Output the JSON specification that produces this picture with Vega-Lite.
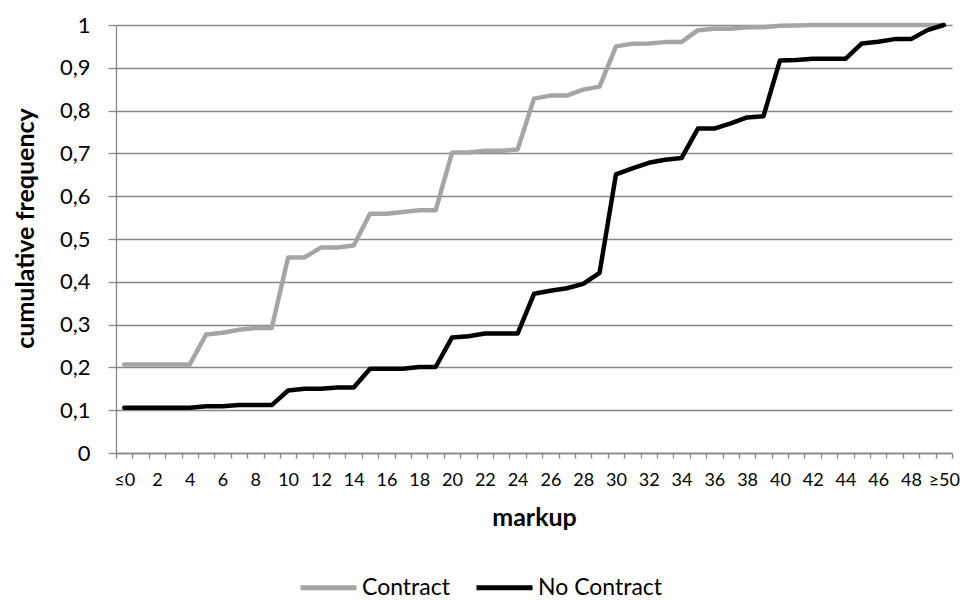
{
  "$schema": "https://vega.github.io/schema/vega-lite/v6.json",
  "autosize": {"type": "none"},
  "padding": {"left": 116, "top": 25, "right": 12, "bottom": 147},
  "width": 836,
  "height": 428,
  "background": "white",
  "data": {
    "values": [
      {"m": "≤0", "series": "Contract", "v": 0.207},
      {"m": "1", "series": "Contract", "v": 0.207},
      {"m": "2", "series": "Contract", "v": 0.207},
      {"m": "3", "series": "Contract", "v": 0.207},
      {"m": "4", "series": "Contract", "v": 0.207},
      {"m": "5", "series": "Contract", "v": 0.277},
      {"m": "6", "series": "Contract", "v": 0.281},
      {"m": "7", "series": "Contract", "v": 0.288},
      {"m": "8", "series": "Contract", "v": 0.292},
      {"m": "9", "series": "Contract", "v": 0.292},
      {"m": "10", "series": "Contract", "v": 0.457},
      {"m": "11", "series": "Contract", "v": 0.457},
      {"m": "12", "series": "Contract", "v": 0.48},
      {"m": "13", "series": "Contract", "v": 0.48},
      {"m": "14", "series": "Contract", "v": 0.485},
      {"m": "15", "series": "Contract", "v": 0.559},
      {"m": "16", "series": "Contract", "v": 0.559},
      {"m": "17", "series": "Contract", "v": 0.563},
      {"m": "18", "series": "Contract", "v": 0.567},
      {"m": "19", "series": "Contract", "v": 0.567},
      {"m": "20", "series": "Contract", "v": 0.702},
      {"m": "21", "series": "Contract", "v": 0.702},
      {"m": "22", "series": "Contract", "v": 0.706},
      {"m": "23", "series": "Contract", "v": 0.706},
      {"m": "24", "series": "Contract", "v": 0.709},
      {"m": "25", "series": "Contract", "v": 0.828},
      {"m": "26", "series": "Contract", "v": 0.835},
      {"m": "27", "series": "Contract", "v": 0.835},
      {"m": "28", "series": "Contract", "v": 0.849},
      {"m": "29", "series": "Contract", "v": 0.856},
      {"m": "30", "series": "Contract", "v": 0.95},
      {"m": "31", "series": "Contract", "v": 0.956},
      {"m": "32", "series": "Contract", "v": 0.957},
      {"m": "33", "series": "Contract", "v": 0.96},
      {"m": "34", "series": "Contract", "v": 0.96},
      {"m": "35", "series": "Contract", "v": 0.988},
      {"m": "36", "series": "Contract", "v": 0.991},
      {"m": "37", "series": "Contract", "v": 0.991},
      {"m": "38", "series": "Contract", "v": 0.995},
      {"m": "39", "series": "Contract", "v": 0.995},
      {"m": "40", "series": "Contract", "v": 0.998},
      {"m": "41", "series": "Contract", "v": 0.999},
      {"m": "42", "series": "Contract", "v": 1},
      {"m": "43", "series": "Contract", "v": 1},
      {"m": "44", "series": "Contract", "v": 1},
      {"m": "45", "series": "Contract", "v": 1},
      {"m": "46", "series": "Contract", "v": 1},
      {"m": "47", "series": "Contract", "v": 1},
      {"m": "48", "series": "Contract", "v": 1},
      {"m": "49", "series": "Contract", "v": 1},
      {"m": "≥50", "series": "Contract", "v": 1},
      {"m": "≤0", "series": "No Contract", "v": 0.106},
      {"m": "1", "series": "No Contract", "v": 0.106},
      {"m": "2", "series": "No Contract", "v": 0.106},
      {"m": "3", "series": "No Contract", "v": 0.106},
      {"m": "4", "series": "No Contract", "v": 0.106},
      {"m": "5", "series": "No Contract", "v": 0.109},
      {"m": "6", "series": "No Contract", "v": 0.109},
      {"m": "7", "series": "No Contract", "v": 0.112},
      {"m": "8", "series": "No Contract", "v": 0.112},
      {"m": "9", "series": "No Contract", "v": 0.112},
      {"m": "10", "series": "No Contract", "v": 0.146},
      {"m": "11", "series": "No Contract", "v": 0.15},
      {"m": "12", "series": "No Contract", "v": 0.15},
      {"m": "13", "series": "No Contract", "v": 0.153},
      {"m": "14", "series": "No Contract", "v": 0.153},
      {"m": "15", "series": "No Contract", "v": 0.197},
      {"m": "16", "series": "No Contract", "v": 0.197},
      {"m": "17", "series": "No Contract", "v": 0.197},
      {"m": "18", "series": "No Contract", "v": 0.201},
      {"m": "19", "series": "No Contract", "v": 0.201},
      {"m": "20", "series": "No Contract", "v": 0.27},
      {"m": "21", "series": "No Contract", "v": 0.273},
      {"m": "22", "series": "No Contract", "v": 0.279},
      {"m": "23", "series": "No Contract", "v": 0.279},
      {"m": "24", "series": "No Contract", "v": 0.279},
      {"m": "25", "series": "No Contract", "v": 0.372},
      {"m": "26", "series": "No Contract", "v": 0.379},
      {"m": "27", "series": "No Contract", "v": 0.385},
      {"m": "28", "series": "No Contract", "v": 0.395},
      {"m": "29", "series": "No Contract", "v": 0.421},
      {"m": "30", "series": "No Contract", "v": 0.651},
      {"m": "31", "series": "No Contract", "v": 0.665},
      {"m": "32", "series": "No Contract", "v": 0.678},
      {"m": "33", "series": "No Contract", "v": 0.685},
      {"m": "34", "series": "No Contract", "v": 0.689},
      {"m": "35", "series": "No Contract", "v": 0.758},
      {"m": "36", "series": "No Contract", "v": 0.758},
      {"m": "37", "series": "No Contract", "v": 0.77},
      {"m": "38", "series": "No Contract", "v": 0.784},
      {"m": "39", "series": "No Contract", "v": 0.787},
      {"m": "40", "series": "No Contract", "v": 0.917},
      {"m": "41", "series": "No Contract", "v": 0.918},
      {"m": "42", "series": "No Contract", "v": 0.921},
      {"m": "43", "series": "No Contract", "v": 0.921},
      {"m": "44", "series": "No Contract", "v": 0.921},
      {"m": "45", "series": "No Contract", "v": 0.957},
      {"m": "46", "series": "No Contract", "v": 0.961},
      {"m": "47", "series": "No Contract", "v": 0.967},
      {"m": "48", "series": "No Contract", "v": 0.967},
      {"m": "49", "series": "No Contract", "v": 0.988},
      {"m": "≥50", "series": "No Contract", "v": 1}
    ]
  },
  "mark": {"type": "line", "strokeWidth": 4.5, "strokeJoin": "round", "strokeCap": "round"},
  "encoding": {
    "x": {
      "field": "m",
      "type": "nominal",
      "sort": null,
      "scale": {"type": "band", "paddingInner": 0, "paddingOuter": 0},
      "axis": {
        "title": "markup",
        "labelAngle": 0,
        "tickBand": "extent",
        "tickSize": 5,
        "labelPadding": 13,
        "labelFontSize": 18,
        "labelExpr": "toNumber(datum.value) % 2 == 1 ? '' : datum.value",
        "labelOverlap": false,
        "titleY": 64,
        "titleBaseline": "middle",
        "grid": false
      }
    },
    "y": {
      "field": "v",
      "type": "quantitative",
      "scale": {"domain": [0, 1], "nice": false},
      "axis": {
        "title": "cumulative frequency",
        "values": [0, 0.1, 0.2, 0.3, 0.4, 0.5, 0.6, 0.7, 0.8, 0.9, 1],
        "labelExpr": "replace(format(datum.value, '~g'), '.', ',')",
        "tickSize": 8,
        "labelPadding": 18,
        "labelFontSize": 22,
        "titleX": -91,
        "titleY": 203,
        "titleAngle": -90,
        "titleAlign": "center",
        "titleBaseline": "middle",
        "grid": true
      }
    },
    "color": {
      "field": "series",
      "type": "nominal",
      "scale": {"domain": ["Contract", "No Contract"], "range": ["#A5A5A5", "#000000"]},
      "legend": {
        "title": null,
        "orient": "none",
        "direction": "horizontal",
        "legendX": 182,
        "legendY": 532,
        "symbolType": "stroke",
        "symbolSize": 3136,
        "symbolStrokeWidth": 5,
        "labelFontSize": 23,
        "labelOffset": 3,
        "columnPadding": 16,
        "padding": 0
      }
    }
  },
  "config": {
    "view": {"stroke": null},
    "font": "Lato",
    "axis": {
      "domainColor": "#878787",
      "tickColor": "#878787",
      "gridColor": "#878787",
      "domainWidth": 1.3,
      "tickWidth": 1.3,
      "gridWidth": 1.3,
      "labelColor": "#000000",
      "titleColor": "#000000",
      "titleFontSize": 25,
      "titleFontWeight": "bold",
      "labelFont": "Lato",
      "titleFont": "Lato"
    },
    "legend": {"labelColor": "#000000", "labelFont": "Lato"}
  }
}
